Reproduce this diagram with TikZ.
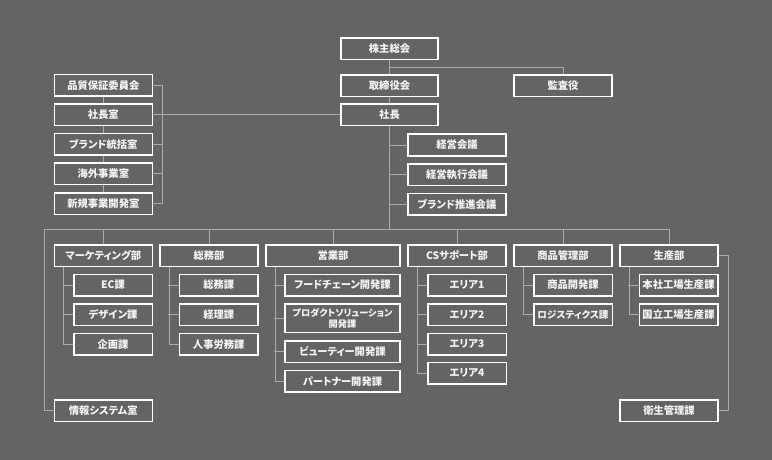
\documentclass[tikz,border=0pt]{standalone}
\usepackage{fontspec}
\newfontfamily\jp{Noto Sans CJK JP}[RawFeature=+palt]
\definecolor{bg}{HTML}{646464}
\definecolor{ln}{HTML}{ABABAB}
\definecolor{tx}{HTML}{F4F4F4}
\begin{document}
\begin{tikzpicture}[x=1pt,y=-1pt,
  box/.style={draw=white,line width=1.5pt,fill=bg,text=tx,inner sep=0pt,
    minimum height=21.5pt,minimum width=98pt,font=\jp\bfseries\fontsize{10.3}{12}\selectfont,align=center},
  sub/.style={box,minimum width=78.5pt},
  eig/.style={box,minimum width=115pt},
  conn/.style={draw=ln,line width=1pt}]
\fill[bg] (0,0) rectangle (772,460);
\useasboundingbox (0,0) rectangle (772,460);
% top
\node[box,minimum width=97pt] (kabu) at (389.5,49) {株主総会};
\node[box,minimum width=97pt] (tori) at (389.5,86) {取締役会};
\node[box,minimum width=97pt] (shacho) at (389.5,115) {社長};
\node[box] (kansa) at (563,86) {監査役};
\node[box] (kk1) at (457,145) {経営会議};
\node[box] (kk2) at (457,174.5) {経営執行会議};
\node[box] (kk3) at (457,204) {ブランド推進会議};
% left column
\node[box] (l1) at (103.3,85.5) {品質保証委員会};
\node[box] (l2) at (103.3,115) {社長室};
\node[box] (l3) at (103.3,144.3) {ブランド統括室};
\node[box] (l4) at (103.3,173.8) {海外事業室};
\node[box] (l5) at (103.3,203.7) {新規事業開発室};
% departments
\node[box] (mkt) at (103.3,255.5) {マーケティング部};
\node[box] (som) at (209,255.5) {総務部};
\node[box,minimum width=134pt] (eig) at (333,255.5) {営業部};
\node[box] (cs) at (457,255.5) {CSサポート部};
\node[box] (shh) at (563,255.5) {商品管理部};
\node[box] (sei) at (669,255.5) {生産部};
% marketing
\node[sub] (m1) at (113,285) {EC課};
\node[sub] (m2) at (113,314.7) {デザイン課};
\node[sub] (m3) at (113,344.2) {企画課};
% somu
\node[sub] (s1) at (218.7,285) {総務課};
\node[sub] (s2) at (218.7,314.7) {経理課};
\node[sub] (s3) at (218.7,344.2) {人事労務課};
% eigyo
\node[eig] (e1) at (342.5,285) {フードチェーン開発課};
\node[eig,minimum height=28.7pt,font=\jp\bfseries\fontsize{9.2}{11.2}\selectfont] (e2) at (342.5,318.3) {プロダクトソリューション\\開発課};
\node[eig] (e3) at (342.5,351.8) {ビューティー開発課};
\node[eig] (e4) at (342.5,381.2) {パートナー開発課};
% cs
\node[sub] (c1) at (467,285) {エリア1};
\node[sub] (c2) at (467,314.7) {エリア2};
\node[sub] (c3) at (467,344.2) {エリア3};
\node[sub] (c4) at (467,373) {エリア4};
% shohin
\node[sub] (h1) at (573,285) {商品開発課};
\node[sub,font=\jp\bfseries\fontsize{9.6}{12}\selectfont] (h2) at (573,314.7) {ロジスティクス課};
% seisan
\node[sub] (p1) at (678.5,285) {本社工場生産課};
\node[sub] (p2) at (678.5,314.7) {国立工場生産課};
% bottom
\node[box] (joho) at (103.3,410.8) {情報システム室};
\node[box] (eisei) at (669,410.7) {衛生管理課};
% ---------- connectors ----------
\coordinate (j1) at (389.5,67.3);
\coordinate (bus) at (389.5,229.3);
\coordinate (busL) at (44,229.3);
\coordinate (LS) at (162.7,0);
\draw[conn] (kabu.south) -- (tori.north);
\draw[conn] (tori.south) -- (shacho.north);
\draw[conn] (j1) -| (kansa.north);
\draw[conn] (shacho.south) -- (bus);
\draw[conn] (kk1.west) -- (kk1.west -| shacho.south);
\draw[conn] (kk2.west) -- (kk2.west -| shacho.south);
\draw[conn] (kk3.west) -- (kk3.west -| shacho.south);
% left
\draw[conn] (shacho.west) -- (l2.east);
\draw[conn] (l1.east -| LS) -- (l5.east -| LS);
\foreach \n in {l1,l3,l4,l5} \draw[conn] (\n.east) -- (\n.east -| LS);
\draw[conn] (l1.south) -- (l2.north);
\draw[conn] (l2.south) -- (l3.north);
\draw[conn] (l3.south) -- (l4.north);
\draw[conn] (l4.south) -- (l5.north);
% bus
\draw[conn] (joho.west) -| (busL) -- (bus -| sei.north) -- (sei.north);
\foreach \n in {mkt,som,eig,cs,shh} \draw[conn] (\n.north) -- (\n.north |- bus);
% sub spines
\draw[conn] ([xshift=10pt]mkt.south west) |- (m3.west);
\foreach \n in {m1,m2} \draw[conn] (\n.west) -- ++(-10.3pt,0);
\draw[conn] ([xshift=10pt]som.south west) |- (s3.west);
\foreach \n in {s1,s2} \draw[conn] (\n.west) -- ++(-10.3pt,0);
\draw[conn] ([xshift=10pt]eig.south west) |- (e4.west);
\foreach \n in {e1,e2,e3} \draw[conn] (\n.west) -- ++(-10.3pt,0);
\draw[conn] ([xshift=10pt]cs.south west) |- (c4.west);
\foreach \n in {c1,c2,c3} \draw[conn] (\n.west) -- ++(-10.3pt,0);
\draw[conn] ([xshift=10pt]shh.south west) |- (h2.west);
\draw[conn] (h1.west) -- ++(-10.3pt,0);
\draw[conn] ([xshift=10pt]sei.south west) |- (p2.west);
\draw[conn] (p1.west) -- ++(-10.3pt,0);
\draw[conn] (sei.east) -- ++(10pt,0) |- (eisei.east);
\end{tikzpicture}
\end{document}
